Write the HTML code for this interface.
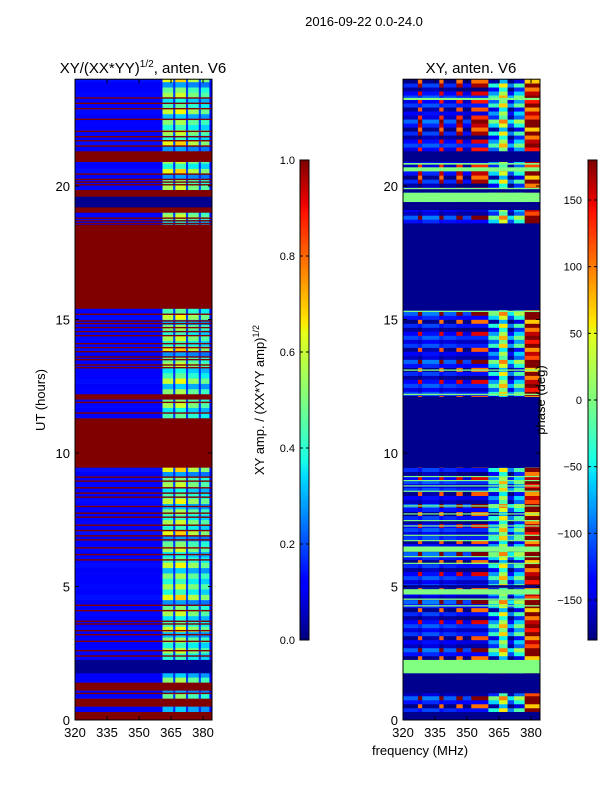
<!DOCTYPE html>
<html><head><meta charset="utf-8">
<style>
body{margin:0;background:#fff;}
svg text{font-family:"Liberation Sans","DejaVu Sans",sans-serif;fill:#000;}
</style></head>
<body>
<svg id="fig" width="600" height="800" viewBox="0 0 600 800" xmlns="http://www.w3.org/2000/svg">
<rect width="600" height="800" fill="#fff"/>
<defs>
<linearGradient id="jet" x1="0" y1="1" x2="0" y2="0">
<stop offset="0" stop-color="#00007f"/><stop offset="0.11" stop-color="#0000ff"/><stop offset="0.125" stop-color="#0000ff"/>
<stop offset="0.34" stop-color="#00dbff"/><stop offset="0.375" stop-color="#19ffe6"/><stop offset="0.5" stop-color="#7fff7f"/>
<stop offset="0.64" stop-color="#e6ff19"/><stop offset="0.66" stop-color="#ffea00"/><stop offset="0.89" stop-color="#ff1200"/>
<stop offset="0.91" stop-color="#ed0000"/><stop offset="1" stop-color="#7f0000"/>
</linearGradient>
</defs>
<text x="364" y="26" font-size="13" text-anchor="middle">2016-09-22 0.0-24.0</text>
<text x="143" y="73" font-size="15" text-anchor="middle">XY/(XX*YY)<tspan font-size="10" dy="-6">1/2</tspan><tspan dy="6">, anten. V6</tspan></text>
<text x="471" y="73" font-size="15" text-anchor="middle">XY, anten. V6</text>
<g id="left"></g>
<g id="right"></g>
<text transform="translate(45,400) rotate(-90)" font-size="13" text-anchor="middle">UT (hours)</text>
<text x="420" y="755" font-size="13" text-anchor="middle">frequency (MHz)</text>
<rect x="300" y="160" width="9" height="480" fill="url(#jet)" stroke="#000" stroke-width="1"/>
<rect x="588" y="160" width="9" height="480" fill="url(#jet)" stroke="#000" stroke-width="1"/>
<g id="cb1"></g>
<g id="cb2"></g>
<text transform="translate(264,400) rotate(-90)" font-size="13" text-anchor="middle">XY amp. / (XX*YY amp)<tspan font-size="9" dy="-5">1/2</tspan></text>
<text transform="translate(545,400) rotate(-90)" font-size="13" text-anchor="middle">phase (deg)</text>
</svg>
<script>
const yTicks=[0,5,10,15,20];
const xTicks=[320,335,350,365,380];
const ampTicks=[0.0,0.2,0.4,0.6,0.8,1.0];
const phaseTicks=[-150,-100,-50,0,50,100,150];
const leftBands=[[21.3,24,'A'],[20.9,21.3,'R'],[19.85,20.9,'A'],[19.6,19.85,'R'],[19.2,19.6,'N'],[19.0,19.2,'R'],[18.55,19.0,'A'],[15.4,18.55,'R'],[12.2,15.4,'A'],[12.0,12.2,'R'],[11.3,12.0,'A'],[9.45,11.3,'R'],[2.3,9.45,'A'],[2.25,2.3,'A'],[1.75,2.25,'N'],[1.4,1.75,'A'],[1.1,1.4,'R'],[0.8,1.1,'A'],[0.5,0.8,'R'],[0.3,0.5,'A'],[0,0.3,'R']];
const leftFlagLines=[23.3,23.1,22.9,22.5,22.05,21.85,21.7,21.5,20.45,20.25,20.15,20.05,18.8,18.7,18.6,15.2,14.95,14.85,14.7,14.55,14.4,14.1,13.95,13.8,13.6,13.5,13.3,13.2,11.9,11.5,9.1,8.95,8.7,8.5,8.35,8.0,7.75,7.6,7.3,7.1,6.9,6.75,6.45,6.2,6.0,4.3,4.1,3.7,3.6,3.35,3.2,2.95,2.6,2.4,1.0];
const ampSegments=[[320,361,0.09],[361,366,0.55],[366,367,0.15],[367,372,0.6],[372,373,0.15],[373,378,0.5],[378,379,0.15],[379,383,0.45],[383,384,0.09]];
const rowMod=[1,0.6,0.9,0.4,1.1,0.7,0.5,1,0.8,0.3,1.2,0.6];
const phaseSegments=[[320,327,-140],[327,329,150],[329,337,-130],[337,339,150],[339,345,-140],[345,348,150],[348,352,-150],[352,360,150],[360,365,-80],[365,369,20],[369,372,-130],[372,377,-60],[377,384,160]];
const phaseShift=[0,-30,20,-45,10,40,-20,0,-35,25,-10,30];
const redMask=[1,0,0,1,0,1,0,0,1,0,0,0];
const navyBands=[[20.9,21.3],[19.75,19.9],[19.1,19.4],[15.35,18.6],[9.45,12.1],[4.95,5.05],[1.0,1.75],[0,0.3]];
const greenBands=[[23.22,23.3],[20.55,20.7],[20.8,20.86],[19.4,19.75],[19.88,19.93],[15.28,15.33],[13.08,13.13],[12.17,12.22],[9.1,9.14],[8.95,8.99],[8.75,8.79],[8.55,8.59],[8.0,8.04],[7.7,7.74],[7.45,7.49],[7.25,7.29],[6.9,6.94],[6.7,6.74],[6.3,6.5],[6.1,6.14],[5.85,5.89],[4.7,4.9],[4.5,4.55],[4.25,4.3],[1.75,2.25]];

const NS='http://www.w3.org/2000/svg';
function jet(v){v=Math.max(0,Math.min(1,v));
 function pw(p){for(let i=1;i<p.length;i++){if(v<=p[i][0]){const a=p[i-1],b=p[i];return a[1]+(b[1]-a[1])*(v-a[0])/(b[0]-a[0]);}}return p[p.length-1][1];}
 const r=pw([[0,0],[0.35,0],[0.66,1],[0.89,1],[1,0.5]]),g=pw([[0,0],[0.125,0],[0.375,1],[0.64,1],[0.91,0],[1,0]]),b=pw([[0,0.5],[0.11,1],[0.34,1],[0.65,0],[1,0]]);
 return `rgb(${Math.round(r*255)},${Math.round(g*255)},${Math.round(b*255)})`;}
const YT=79.2,YB=720,F0=320,F1=384.2;
function yS(h){return YB-(h/24)*(YB-YT);}
function xS(x0,f){return x0+(f-F0)/(F1-F0)*137;}
function rect(g,x,y,w,h,fill,name){const r=document.createElementNS(NS,'rect');
 r.setAttribute('x',x);r.setAttribute('y',y);r.setAttribute('width',w);r.setAttribute('height',h);r.setAttribute('fill',fill);
 
 
 g.appendChild(r);return r;}
function txt(g,x,y,s,size,anchor,name){const t=document.createElementNS(NS,'text');
 t.setAttribute('x',x);t.setAttribute('y',y);t.setAttribute('font-size',size);t.setAttribute('text-anchor',anchor);t.textContent=s;
 
 
 g.appendChild(t);}
function line(g,x1,y1,x2,y2){const l=document.createElementNS(NS,'line');
 l.setAttribute('x1',x1);l.setAttribute('y1',y1);l.setAttribute('x2',x2);l.setAttribute('y2',y2);l.setAttribute('stroke','#000');
 
 
 g.appendChild(l);}
function axes(g,x0){
 const fr=rect(g,x0,YT,137,YB-YT,'none','axes-frame');fr.setAttribute('stroke','#000');
 yTicks.forEach(t=>{const y=yS(t);line(g,x0,y,x0+4,y);line(g,x0+137,y,x0+133,y);txt(g,x0-5,y+5,String(t),13,'end','y-tick-label');});
 xTicks.forEach(t=>{const x=xS(x0,t);line(g,x,YB,x,YB-4);line(g,x,YT,x,YT+4);txt(g,x,YB+17,String(t),13,'middle','x-tick-label');});}
// left
const L=document.getElementById('left'),x0L=75;
leftBands.forEach(b=>{const [t0,t1,k]=b;
 if(k==='R'){rect(L,x0L,yS(t1),137,yS(t0)-yS(t1)+0.3,'#800000','flagged-band');return;}
 if(k==='N'){rect(L,x0L,yS(t1),137,yS(t0)-yS(t1)+0.3,'#00008f','quiet-band');return;}
 const step=0.2;let i=Math.round(t0*10);
 for(let t=t0;t<t1-1e-6;t+=step){const te=Math.min(t1,t+step);const m=rowMod[(i++)%rowMod.length];
  ampSegments.forEach(s=>{const v=s[2]>0.3?0.15+(s[2]-0.15)*m:s[2]+0.04*m;
   rect(L,xS(x0L,s[0]),yS(te),xS(x0L,s[1])-xS(x0L,s[0])+0.3,yS(t)-yS(te)+0.3,jet(v),'amp-cell');});}});
leftFlagLines.forEach(h=>rect(L,x0L,yS(h)-0.6,137,1.4,'#800000','flag-line'));
axes(L,x0L);
// right
const R=document.getElementById('right'),x0R=403;
{const step=0.15;let i=0;
 for(let t=0;t<24-1e-6;t+=step){const te=Math.min(24,t+step);const k=i%phaseShift.length;const sh=phaseShift[k];const rm=redMask[k]||(t>19&&t<24&&i%2===0);i++;
  phaseSegments.forEach(s=>{let v=s[2];
   if(v>100&&s[0]<360&&!rm)v=-150;
   v+= (s[0]>=360?sh*2:sh);
   v=Math.max(-180,Math.min(180,v));
   rect(R,xS(x0R,s[0]),yS(te),xS(x0R,s[1])-xS(x0R,s[0])+0.3,yS(t)-yS(te)+0.3,jet((v+180)/360),'phase-cell');});}}
navyBands.forEach(b=>rect(R,x0R,yS(b[1]),137,yS(b[0])-yS(b[1]),'#00008f','flagged-band'));
greenBands.forEach(b=>rect(R,x0R,yS(b[1]),137,Math.max(1.2,yS(b[0])-yS(b[1])),'#80ff80','zero-phase-band'));
axes(R,x0R);
// colorbar ticks
const C1=document.getElementById('cb1'),C2=document.getElementById('cb2');
ampTicks.forEach(v=>{const y=640-v*480;line(C1,300,y,303,y);line(C1,309,y,306,y);txt(C1,295,y+4,v.toFixed(1),11,'end','amp-tick-label');});
phaseTicks.forEach(v=>{const y=400-v/180*240;line(C2,588,y,591,y);line(C2,597,y,594,y);txt(C2,582,y+4,String(v).replace('-','\u2212'),11,'end','phase-tick-label');});
</script>
</body></html>
